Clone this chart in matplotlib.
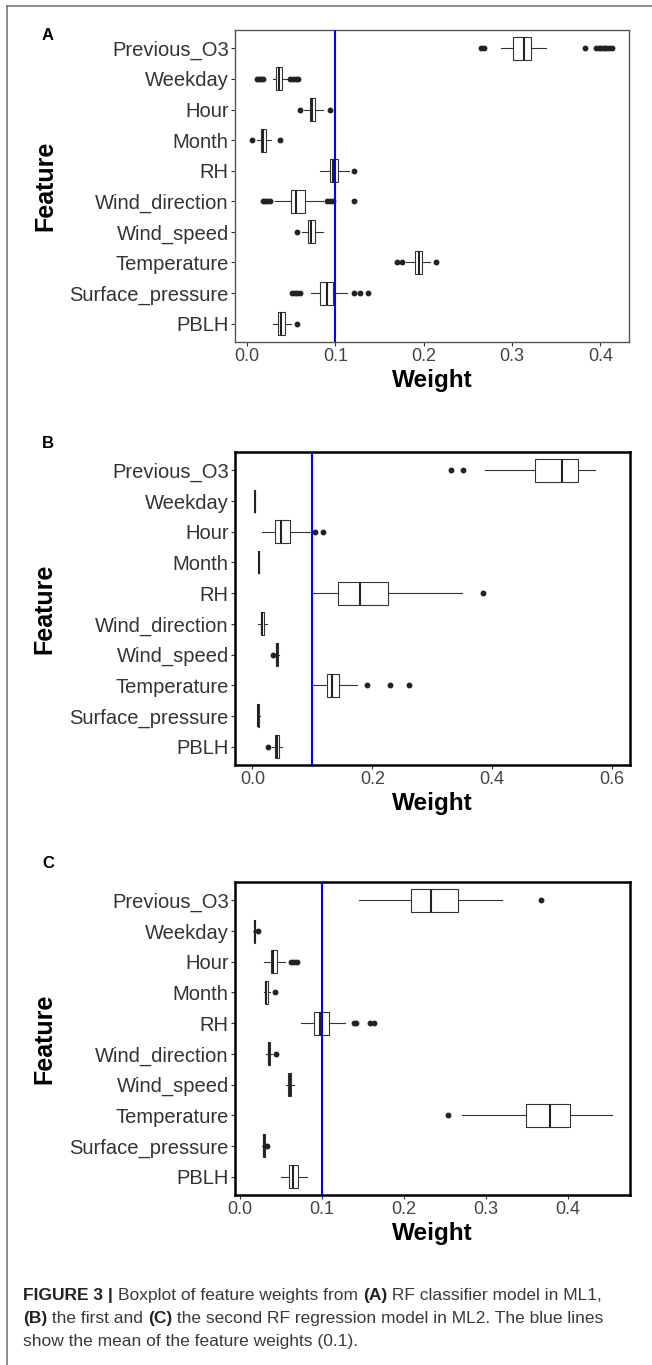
import numpy as np
import matplotlib
matplotlib.use("Agg")
import matplotlib.pyplot as plt
from matplotlib.lines import Line2D

plt.rcParams['font.family'] = ['Liberation Sans', 'DejaVu Sans']

features = ["Previous_O3", "Weekday", "Hour", "Month", "RH", "Wind_direction",
            "Wind_speed", "Temperature", "Surface_pressure", "PBLH"]

# panel A - RF classifier (ML1)
a_lo = [0.2873, 0.0288, 0.0642, 0.0113, 0.0821, 0.0311, 0.0618, 0.1797, 0.0726, 0.0288]
a_q1 = [0.3014, 0.0330, 0.0712, 0.0160, 0.0934, 0.0500, 0.0693, 0.1906, 0.0830, 0.0349]
a_med = [0.3132, 0.0358, 0.0736, 0.0184, 0.0972, 0.0557, 0.0726, 0.1943, 0.0901, 0.0382]
a_q3 = [0.3212, 0.0392, 0.0769, 0.0217, 0.1028, 0.0651, 0.0769, 0.1986, 0.0972, 0.0425]
a_hi = [0.3387, 0.0453, 0.0854, 0.0274, 0.1151, 0.0854, 0.0854, 0.2066, 0.1137, 0.0500]
a_out = [[0.2646, 0.2679, 0.3825, 0.395, 0.398, 0.401, 0.404, 0.407, 0.410, 0.413],
         [0.011, 0.0135, 0.016, 0.0185, 0.049, 0.052, 0.055, 0.058],
         [0.0594, 0.0934],
         [0.0061, 0.0373],
         [0.1212],
         [0.018, 0.0205, 0.023, 0.0255, 0.091, 0.094, 0.097, 0.1212],
         [0.0566],
         [0.1703, 0.175, 0.2137],
         [0.051, 0.054, 0.057, 0.0594, 0.1212, 0.1283, 0.1368],
         [0.0566]]

# panel B - first RF regression (ML2)
b_lo = [0.3875, 0.0038, 0.0153, 0.0106, 0.1002, 0.0097, 0.0376, 0.0988, 0.0090, 0.0327]
b_q1 = [0.4710, 0.0040, 0.0376, 0.0108, 0.1426, 0.0139, 0.0390, 0.1238, 0.0092, 0.0383]
b_med = [0.5160, 0.0042, 0.0480, 0.0111, 0.1795, 0.0167, 0.0410, 0.1336, 0.0097, 0.0410]
b_q3 = [0.5426, 0.0045, 0.0626, 0.0114, 0.2268, 0.0195, 0.0430, 0.1447, 0.0104, 0.0445]
b_hi = [0.5718, 0.0047, 0.1002, 0.0116, 0.3492, 0.0237, 0.0445, 0.1740, 0.0130, 0.0501]
b_out = [[0.332, 0.3506], [], [0.1037, 0.1183], [], [0.384], [], [0.034],
         [0.192, 0.2289, 0.2609], [], [0.0264]]

# panel C - second RF regression (ML2)
c_lo = [0.1450, 0.0160, 0.0295, 0.0295, 0.0748, 0.0316, 0.0560, 0.2707, 0.0275, 0.0504]
c_q1 = [0.2087, 0.0170, 0.0377, 0.0310, 0.0900, 0.0340, 0.0590, 0.3496, 0.0280, 0.0595]
c_med = [0.2326, 0.0178, 0.0407, 0.0320, 0.0977, 0.0356, 0.0606, 0.3786, 0.0290, 0.0646]
c_q3 = [0.2667, 0.0185, 0.0453, 0.0340, 0.1090, 0.0370, 0.0620, 0.4030, 0.0300, 0.0707]
c_hi = [0.3200, 0.0190, 0.0550, 0.0366, 0.1280, 0.0390, 0.0660, 0.4540, 0.0305, 0.0824]
c_out = [[0.3674], [0.0224], [0.062, 0.0656, 0.0697], [0.0427],
         [0.139, 0.142, 0.159, 0.164], [0.0443], [], [0.2545], [0.033], []]

mean_weight = 0.1

W, H = 652, 1365
fig = plt.figure(figsize=(W / 100, H / 100), dpi=100)


def px_axes(left, top, right, bottom):
    return fig.add_axes([left / W, 1 - bottom / H, (right - left) / W, (bottom - top) / H])


def draw_panel(ax, lo, q1, med, q3, hi, outs, xlim, xticks, frame_col, frame_lw):
    n = len(features)
    pos = np.arange(n, 0, -1)
    stats = []
    for i in range(n):
        stats.append(dict(whislo=lo[i], q1=q1[i], med=med[i], q3=q3[i], whishi=hi[i],
                          fliers=np.array(outs[i])))
    ax.bxp(stats, positions=pos, widths=0.75, orientation='horizontal', patch_artist=True,
           showcaps=False,
           boxprops=dict(facecolor='white', edgecolor='#333333', linewidth=0.8),
           medianprops=dict(color='#222222', linewidth=1.5),
           whiskerprops=dict(color='#333333', linewidth=0.8),
           flierprops=dict(marker='o', markerfacecolor='#222222', markeredgecolor='#222222',
                           markersize=3.2))
    ax.axvline(mean_weight, color='#0000ff', lw=1.5, zorder=5)
    ax.set_xlim(*xlim)
    ax.set_ylim(0.4, n + 0.6)
    ax.set_yticks(pos)
    ax.set_yticklabels(features, fontsize=14.5, color='#333333')
    ax.set_xticks(xticks)
    ax.set_xticklabels([f"{t:.1f}" for t in xticks], fontsize=13, color='#444444')
    ax.tick_params(length=3, width=0.8, color='#333333', pad=1.5)
    for s in ax.spines.values():
        s.set_color(frame_col)
        s.set_linewidth(frame_lw)
    ax.set_xlabel("Weight", fontsize=17.5, fontweight='bold')
    ax.set_ylabel("Feature", fontsize=18, fontweight='bold')
    ax.xaxis.set_label_coords(0.5, -38 / 312)
    ax.xaxis.label.set_va('center')
    ax.yaxis.set_label_coords(-190 / 394, 0.5)
    ax.yaxis.label.set_va('center')


ax_a = px_axes(235, 30, 629, 342)
draw_panel(ax_a, a_lo, a_q1, a_med, a_q3, a_hi, a_out, (-0.0137, 0.4325),
           [0.0, 0.1, 0.2, 0.3, 0.4], '#555555', 1.0)

ax_b = px_axes(235, 452, 630, 765)
draw_panel(ax_b, b_lo, b_q1, b_med, b_q3, b_hi, b_out, (-0.029, 0.630),
           [0.0, 0.2, 0.4, 0.6], 'black', 1.8)

ax_c = px_axes(235, 882, 630, 1195)
draw_panel(ax_c, c_lo, c_q1, c_med, c_q3, c_hi, c_out, (-0.006, 0.476),
           [0.0, 0.1, 0.2, 0.3, 0.4], 'black', 1.8)

for lab, y in [("A", 36), ("B", 444), ("C", 863)]:
    fig.text(48 / W, 1 - y / H, lab, fontsize=12, fontweight='bold', ha='center', va='center')

# page frame
fig.add_artist(Line2D([7 / W, 1], [1 - 6 / H, 1 - 6 / H], color='#777777', lw=1.2))
fig.add_artist(Line2D([7 / W, 7 / W], [1 - 6 / H, 0], color='#777777', lw=1.2))

# caption with bold pieces
cap_lines = [
    [("FIGURE 3 | ", 'bold'), ("Boxplot of feature weights from ", 'normal'), ("(A)", 'bold'),
     (" RF classifier model in ML1,", 'normal')],
    [("(B)", 'bold'), (" the first and ", 'normal'), ("(C)", 'bold'),
     (" the second RF regression model in ML2. The blue lines", 'normal')],
    [("show the mean of the feature weights (0.1).", 'normal')],
]
cap_base = [1300, 1323, 1346]
renderer = fig.canvas.get_renderer()
for line, y in zip(cap_lines, cap_base):
    x = 23
    for txt, wt in line:
        t = fig.text(x / W, 1 - y / H, txt, fontsize=12.5, fontweight=wt, ha='left', va='baseline',
                     color='#222222' if wt == 'bold' else '#3a3a3a')
        x += t.get_window_extent(renderer).width

fig.savefig("out.png", dpi=100, facecolor='white')
